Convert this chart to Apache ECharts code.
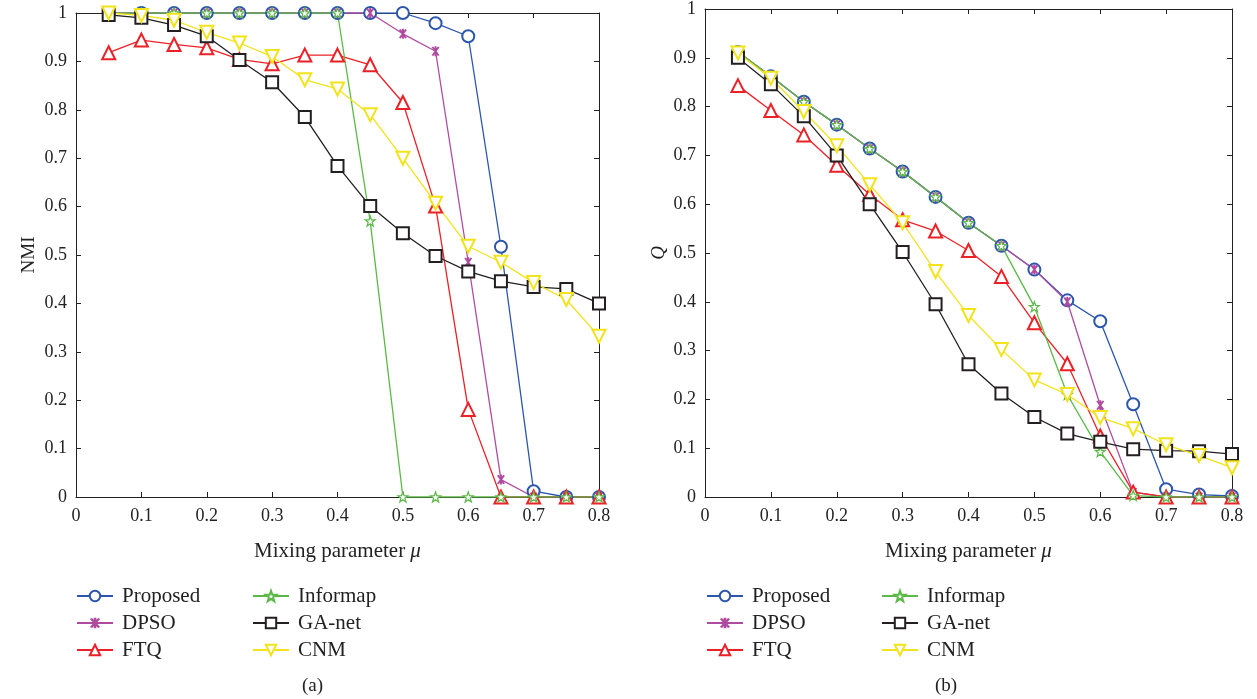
<!DOCTYPE html>
<html><head><meta charset="utf-8">
<script src="https://cdn.jsdelivr.net/npm/echarts@6/dist/echarts.min.js"></script>
<style>html,body{margin:0;padding:0;background:#fff}#c{width:1257px;height:699px}</style>
</head><body><div id="c"></div>
<script>
const mu = [0.05,0.1,0.15,0.2,0.25,0.3,0.35,0.4,0.45,0.5,0.55,0.6,0.65,0.7,0.75,0.8];
const names = ['Proposed','DPSO','FTQ','Informap','GA-net','CNM'];
const xTicks = ['0','0.1','0.2','0.3','0.4','0.5','0.6','0.7','0.8'];
const yTicks = ['0','0.1','0.2','0.3','0.4','0.5','0.6','0.7','0.8','0.9','1'];

// (a) NMI
const nmiProposed = [1,1,1,1,1,1,1,1,1,1,0.979,0.952,0.517,0.012,0,0];
const nmiDPSO     = [1,1,1,1,1,1,1,1,1,0.957,0.921,0.485,0.036,0,0,0];
const nmiFTQ      = [0.918,0.944,0.935,0.928,0.904,0.895,0.913,0.913,0.893,0.815,0.601,0.181,0,0,0,0];
const nmiInformap = [1,1,1,1,1,1,1,1,0.57,0,0,0,0,0,0,0];
const nmiGAnet    = [0.996,0.99,0.975,0.952,0.903,0.857,0.785,0.684,0.601,0.545,0.498,0.466,0.446,0.434,0.43,0.4];
const nmiCNM      = [1,0.995,0.985,0.96,0.938,0.91,0.862,0.843,0.79,0.7,0.607,0.518,0.485,0.443,0.408,0.332];

// (b) Q
const qProposed = [0.912,0.862,0.81,0.763,0.714,0.667,0.615,0.562,0.515,0.466,0.403,0.36,0.19,0.016,0.005,0.002];
const qDPSO     = [0.912,0.862,0.81,0.763,0.714,0.667,0.615,0.562,0.515,0.466,0.4,0.188,0.01,0,0,0];
const qFTQ      = [0.843,0.792,0.742,0.68,0.62,0.568,0.545,0.505,0.452,0.357,0.273,0.125,0.01,0,0,0];
const qInformap = [0.912,0.862,0.81,0.763,0.714,0.667,0.615,0.562,0.515,0.39,0.21,0.093,0.003,0,0,0];
const qGAnet    = [0.9,0.846,0.78,0.7,0.6,0.502,0.395,0.272,0.212,0.164,0.13,0.113,0.098,0.095,0.094,0.088];
const qCNM      = [0.91,0.858,0.79,0.72,0.64,0.562,0.462,0.372,0.302,0.24,0.21,0.163,0.14,0.107,0.085,0.06];

const colors = {Proposed:'#2C56AC', DPSO:'#B04CA0', FTQ:'#EC2127', Informap:'#5BB947', 'GA-net':'#231F20', CNM:'#F2E31B'};
const asterisk = 'path://M-0.8,5L-0.8,-5L0.8,-5L0.8,5Z M1.807,4.73L-3.193,-3.93L-1.807,-4.73L3.193,3.93Z M-3.193,3.93L1.807,-4.73L3.193,-3.93L-1.807,4.73Z';
const star = 'path://M0,-5L1.18,-1.62L4.76,-1.55L1.9,0.62L2.94,4.05L0,2L-2.94,4.05L-1.9,0.62L-4.76,-1.55L-1.18,-1.62Z';
const sym = {
  Proposed:{symbol:'emptyCircle', symbolSize:12},
  DPSO:{symbol:asterisk, symbolSize:[8,10]},
  FTQ:{symbol:'emptyTriangle', symbolSize:13},
  Informap:{symbol:star, symbolSize:10},
  'GA-net':{symbol:'emptyRect', symbolSize:12},
  CNM:{symbol:'emptyTriangle', symbolSize:13, symbolRotate:180}
};
const font = 'Liberation Serif';

function mk(name, vals, gi){
  const c = colors[name];
  const s = Object.assign({
    name, type:'line', xAxisIndex: gi*2, yAxisIndex: gi*2,
    data: mu.map((m,i)=>[m, vals[i]]),
    lineStyle:{color:c, width:1.3},
    itemStyle:{color:c, borderColor:c, borderWidth:1.2},
    emphasis:{disabled:true}, animation:false, showAllSymbol:true
  }, sym[name]);
  if(name==='Informap'){ s.itemStyle = {color:'#fff', borderColor:c, borderWidth:1.2}; }
  if(name==='DPSO'){ s.itemStyle = {color:c, borderWidth:0}; }
  return s;
}

function axes(gi, yName){
  const tickLabel = {fontFamily:font, fontSize:18, color:'#222'};
  const line = {show:true, onZero:false, lineStyle:{color:'#222', width:1}};
  const tick = {show:true, inside:true, length:5, lineStyle:{color:'#222'}};
  const x = [
    {type:'value', gridIndex:gi, position:'bottom', min:0, max:0.8, interval:0.1,
     axisLine:line, axisTick:tick, splitLine:{show:false},
     axisLabel:Object.assign({margin:10, formatter:v=>xTicks[Math.round(v*10)]}, tickLabel),
     name:'Mixing parameter {i|μ}', nameLocation:'middle', nameGap:44,
     nameTextStyle:{fontFamily:font, fontSize:21, color:'#222', rich:{i:{fontFamily:font, fontSize:21, fontStyle:'italic', color:'#222'}}}},
    {type:'value', gridIndex:gi, position:'top', min:0, max:0.8, interval:0.1,
     axisLine:line, axisTick:tick, splitLine:{show:false}, axisLabel:{show:false}}
  ];
  const y = [
    {type:'value', gridIndex:gi, position:'left', min:0, max:1, interval:0.1,
     axisLine:line, axisTick:tick, splitLine:{show:false},
     axisLabel:Object.assign({margin:9, formatter:v=>yTicks[Math.round(v*10)]}, tickLabel),
     name:yName, nameLocation:'middle', nameGap:37,
     nameTextStyle:{fontFamily:font, fontSize:19, color:'#222', fontStyle: yName==='Q'?'italic':'normal'}},
    {type:'value', gridIndex:gi, position:'right', min:0, max:1, interval:0.1,
     axisLine:line, axisTick:tick, splitLine:{show:false}, axisLabel:{show:false}}
  ];
  return {x,y};
}

const a0 = axes(0,'NMI'), a1 = axes(1,'Q');
const legendBase = {orient:'vertical', itemWidth:36, itemHeight:13, itemGap:5,
  textStyle:{fontFamily:font, fontSize:21, lineHeight:22, color:'#222', padding:[0,0,0,4]}, selectedMode:false};

const option = {
  backgroundColor:'#fff',
  animation:false,
  grid:[
    {left:76, right:1257-599, top:13, bottom:202, containLabel:false},
    {left:705, right:1257-1232, top:9, bottom:202, containLabel:false}
  ],
  xAxis:[...a0.x, ...a1.x],
  yAxis:[...a0.y, ...a1.y],
  legend:[
    Object.assign({left:71, top:580, data:['Proposed','DPSO','FTQ']}, legendBase),
    Object.assign({left:247, top:580, data:['Informap','GA-net','CNM']}, legendBase),
    Object.assign({left:701, top:580, data:['Proposed','DPSO','FTQ']}, legendBase),
    Object.assign({left:876, top:580, data:['Informap','GA-net','CNM']}, legendBase)
  ],
  graphic:[
    {type:'text', left:302, top:677, style:{text:'(a)', fontFamily:font, fontSize:19, fill:'#222'}},
    {type:'text', left:935, top:677, style:{text:'(b)', fontFamily:font, fontSize:19, fill:'#222'}}
  ],
  series:[
    mk('Proposed',nmiProposed,0), mk('DPSO',nmiDPSO,0), mk('FTQ',nmiFTQ,0),
    mk('Informap',nmiInformap,0), mk('GA-net',nmiGAnet,0), mk('CNM',nmiCNM,0),
    mk('Proposed',qProposed,1), mk('DPSO',qDPSO,1), mk('FTQ',qFTQ,1),
    mk('Informap',qInformap,1), mk('GA-net',qGAnet,1), mk('CNM',qCNM,1)
  ]
};
const chart = echarts.init(document.getElementById('c'), null, {renderer:'canvas'});
chart.setOption(option);
</script></body></html>
